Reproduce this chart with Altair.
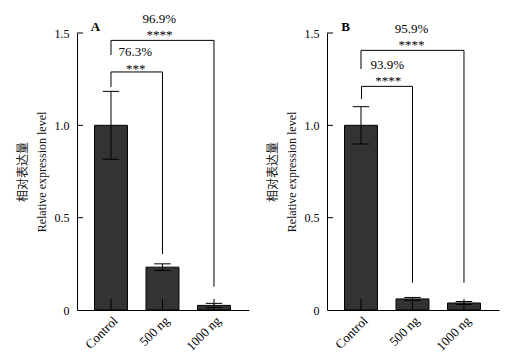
import json
import altair as alt
import pandas as pd

categories = ["Control", "500 ng", "1000 ng"]
stub_top = [0.06, 0.06, 0.06]

a_mean = [1.0, 0.232, 0.025]
a_err = [0.184, 0.018, 0.011]
b_mean = [1.0, 0.060, 0.038]
b_err = [0.101, 0.008, 0.008]

a_br_left = [0, 0]
a_br_right = [1, 2]
a_br_y = [1.289, 1.460]
a_br_lend = [1.207, 1.381]
a_br_rend = [0.303, 0.126]

b_br_left = [0.01, 0]
b_br_right = [1, 2]
b_br_y = [1.211, 1.406]
b_br_lend = [1.142, 1.305]
b_br_rend = [0.148, 0.148]

a_txt = ["76.3%", "***", "96.9%", "****"]
a_tx = [0.47, 0.48, 0.94, 0.94]
a_ty = [1.373, 1.285, 1.554, 1.465]

b_txt = ["93.9%", "****", "95.9%", "****"]
b_tx = [0.51, 0.53, 0.98, 0.98]
b_ty = [1.305, 1.216, 1.498, 1.413]

y_ticks = [0.5, 1.0, 1.5]

SERIF = "'Liberation Serif', 'Times New Roman', Times, serif"
CJK = "'Liberation Serif', 'Times New Roman', 'Noto Sans CJK SC', serif"

label_expr = json.dumps(categories) + "[datum.value]"

XAXIS = alt.Axis(
    values=[0, 1, 2], labelExpr=label_expr, title=None, ticks=False,
    labelAngle=-45, labelFont=SERIF, labelFontSize=13, labelColor="black",
    domainColor="black", grid=False, labelPadding=4)
YAXIS = alt.Axis(
    values=[0, 0.5, 1.0, 1.5],
    labelExpr="datum.value == 0 ? '0' : format(datum.value, '.1f')",
    ticks=False, grid=False, labelFont=SERIF, labelFontSize=12, labelColor="black",
    domainColor="black", labelPadding=8,
    title=["相对表达量", "Relative expression level"], titleFont=CJK,
    titleFontSize=12, titleFontWeight="normal", titleColor="#111111", titlePadding=6,
    titleLineHeight=19)


def panel(letter, mean, err, bl, br, by, ble, bre, txt, tx, ty):
    idx = list(range(len(categories)))
    df = pd.DataFrame({
        "i": idx,
        "cat": categories,
        "mean": mean,
        "lo": [m - e for m, e in zip(mean, err)],
        "hi": [m + e for m, e in zip(mean, err)],
        "x0": [i - 0.32 for i in idx],
        "x1": [i + 0.32 for i in idx],
        "c0": [i - 0.16 for i in idx],
        "c1": [i + 0.16 for i in idx],
        "zero": [0.0] * 3,
        "stub": stub_top,
    })
    segs = []
    for l, r, y, le, re in zip(bl, br, by, ble, bre):
        segs.append({"x": l, "x2": r, "y": y, "y2": y})
        segs.append({"x": l, "x2": l, "y": le, "y2": y})
        segs.append({"x": r, "x2": r, "y": re, "y2": y})
    segs = pd.DataFrame(segs)
    tdf = pd.DataFrame({"t": txt, "x": tx, "y": ty})
    ldf = pd.DataFrame({"t": [letter], "x": [-0.3], "y": [1.535]})
    tickdf = pd.DataFrame({"t": y_ticks})

    xs = alt.Scale(domain=[-0.66, 2.68], nice=False, zero=False)
    ys = alt.Scale(domain=[0, 1.5], nice=False)
    xq = lambda f: alt.X(f, scale=xs, axis=XAXIS)
    yq = lambda f: alt.Y(f, scale=ys, axis=YAXIS)

    base = alt.Chart(df)
    bars = base.mark_rect(fill="#333333", stroke="black", strokeWidth=1).encode(
        x=xq("x0:Q"), x2="x1", y=yq("mean:Q"), y2="zero")
    ev = base.mark_rule(color="black", strokeWidth=1).encode(x=xq("i:Q"), y=yq("lo:Q"), y2="hi")
    cap_hi = base.mark_rule(color="black", strokeWidth=1).encode(x=xq("c0:Q"), x2="c1", y=yq("hi:Q"))
    cap_lo = base.mark_rule(color="black", strokeWidth=1).encode(x=xq("c0:Q"), x2="c1", y=yq("lo:Q"))
    stub = base.mark_rule(color="black", strokeWidth=1).encode(x=xq("i:Q"), y=yq("zero:Q"), y2="stub")
    brk = alt.Chart(segs).mark_rule(color="black", strokeWidth=1).encode(
        x=xq("x:Q"), x2="x2", y=yq("y:Q"), y2="y2")
    txts = alt.Chart(tdf).mark_text(font=SERIF, fontSize=13, color="black", baseline="alphabetic").encode(
        x=xq("x:Q"), y=yq("y:Q"), text="t:N")
    let = alt.Chart(ldf).mark_text(font=SERIF, fontSize=13, fontWeight="bold", color="black",
                                    baseline="middle").encode(x=xq("x:Q"), y=yq("y:Q"), text="t:N")
    ticks = alt.Chart(tickdf).mark_rule(color="black", strokeWidth=1).encode(
        x=alt.value(0), x2=alt.value(6), y=yq("t:Q"))
    return alt.layer(bars, ev, cap_hi, cap_lo, stub, brk, txts, let, ticks).properties(width=172, height=277)


pa = panel("A", a_mean, a_err, a_br_left, a_br_right, a_br_y, a_br_lend, a_br_rend, a_txt, a_tx, a_ty)
pb = panel("B", b_mean, b_err, b_br_left, b_br_right, b_br_y, b_br_lend, b_br_rend, b_txt, b_tx, b_ty)

chart = alt.hconcat(
    pa, pb, spacing=17, background="white",
    padding={"left": 8, "top": 5, "right": 5, "bottom": 5},
).configure_view(stroke=None)

chart.save("out.html", embed_options={"renderer": "svg", "actions": False})
